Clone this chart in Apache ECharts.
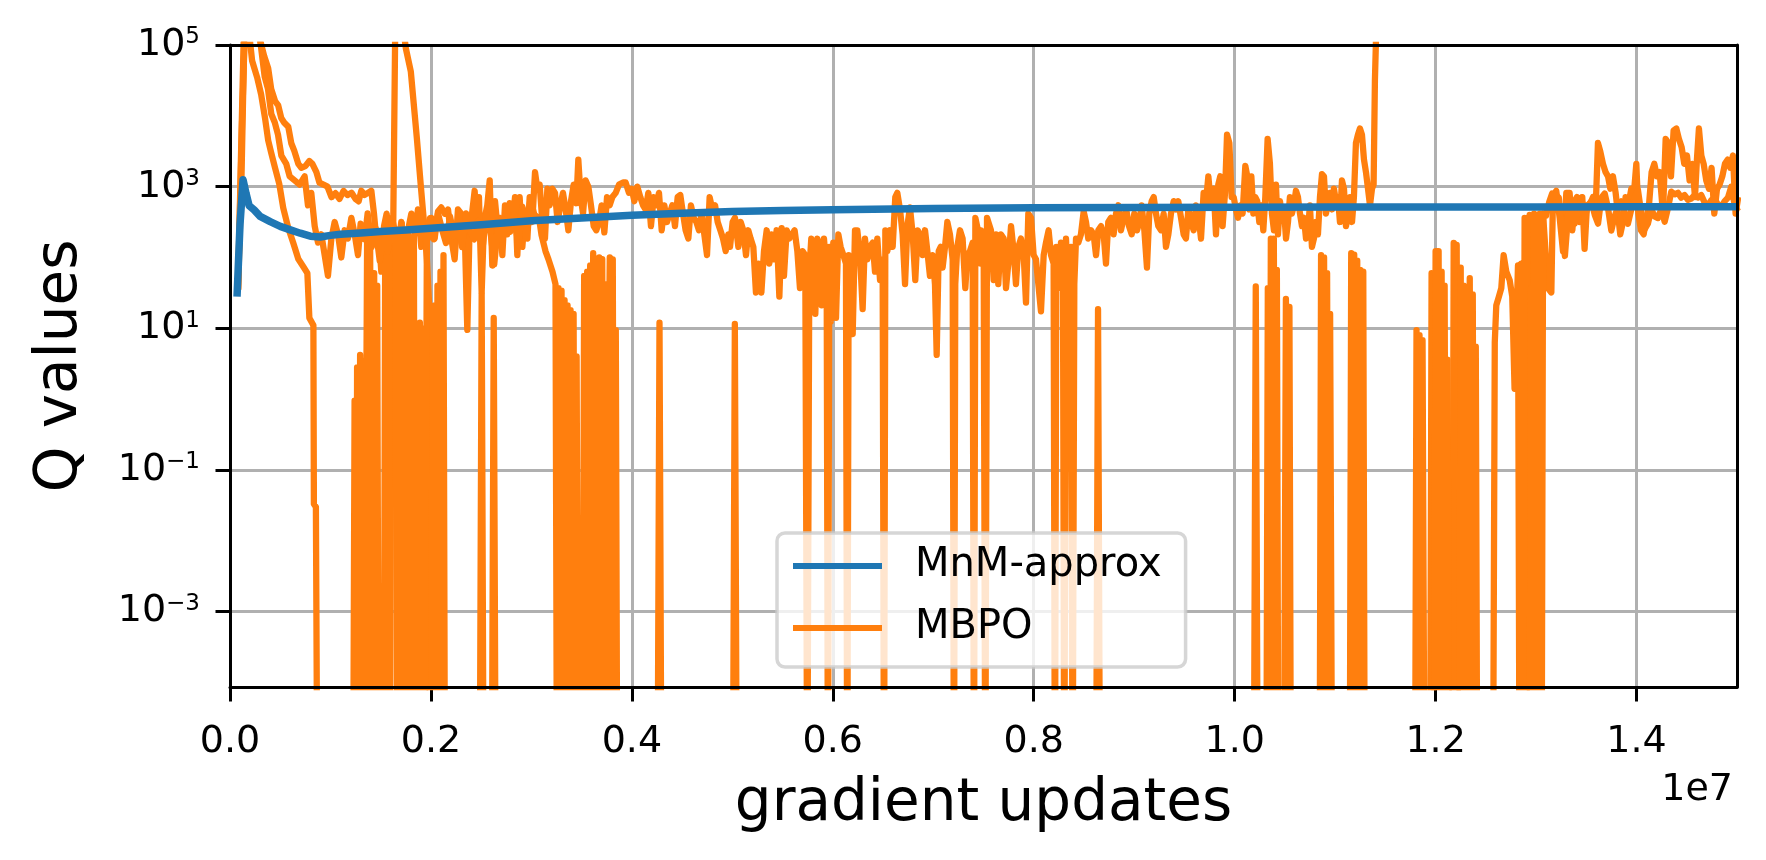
<!DOCTYPE html>
<html><head><meta charset="utf-8">
<script src="https://cdn.jsdelivr.net/npm/echarts@6/dist/echarts.min.js"></script>
<style>html,body{margin:0;padding:0;background:#fff}#chart{width:1766px;height:860px}</style>
</head><body><div id="chart"></div>
<script>
const FONT = 'DejaVu Sans';
const seriesNames = ['MnM-approx', 'MBPO'];
const xTickValues = [0, 0.2, 0.4, 0.6, 0.8, 1.0, 1.2, 1.4];   // x in units of 1e7 gradient updates
const yTickValues = [1e-3, 1e-1, 1e1, 1e3, 1e5];
// values of 1e-6 are non-positive / below-range Q values (clipped at the bottom of the log axis)

const mnmApprox = [[0.007,28],[0.010,300],[0.013,1250],[0.016,800],[0.019,540],[0.024,470],[0.030,380],[0.040,320],[0.050,275],[0.060,245],[0.070,220],[0.080,200],[0.090,195],[0.100,205],[0.110,212],[0.130,222],[0.150,232],[0.175,245],[0.200,258],[0.250,290],[0.300,330],[0.350,360],[0.400,395],[0.450,420],[0.500,445],[0.550,460],[0.600,472],[0.700,490],[0.800,502],[0.900,508],[1.000,512],[1.100,515],[1.200,517],[1.300,518],[1.400,519],[1.500,520]];

const mbpoRunA = [[0.008,35],[0.011,3000],[0.014,2e5],[0.022,2e5],[0.028,1.5e5],[0.034,70000],[0.038,47000],[0.041,24000],[0.045,16000],[0.048,14000],[0.051,9300],[0.054,8000],[0.058,7000],[0.061,4100],[0.064,3200],[0.068,2100],[0.071,1850],[0.075,1950],[0.079,2300],[0.082,2100],[0.086,1600],[0.089,1140],[0.093,1070],[0.097,1000],[0.101,710],[0.105,810],[0.109,670],[0.113,870],[0.117,760],[0.121,820],[0.125,670],[0.128,620],[0.1307,874],[0.134,763],[0.1373,817],[0.1407,874],[0.1433,416],[0.1456,185],[0.148,212],[0.1506,63],[0.1533,277],[0.1559,416],[0.1586,212],[0.1612,363],[0.1639,242],[0.1672,141],[0.1705,317],[0.1738,123],[0.1772,242],[0.1805,416],[0.1838,212],[0.1871,476],[0.1904,141],[0.1937,277],[0.1971,185],[0.2004,363],[0.2037,185],[0.207,445],[0.2103,509],[0.2137,416],[0.217,476],[0.2203,185],[0.2236,94],[0.2269,476],[0.2302,416],[0.2336,242],[0.2362,9.5],[0.2385,277],[0.2409,416],[0.2435,874],[0.2462,212],
[0.2478,713],[0.2505,32],[0.2528,317],[0.2561,545],[0.2585,1225],[0.2611,77],[0.2638,623],[0.2661,277],[0.2684,363],[0.2711,108],[0.2737,545],[0.276,212],[0.2784,583],[0.281,277],[0.2837,713],[0.286,108],[0.2883,713],[0.291,141],[0.2936,416],[0.296,185],[0.2983,713],[0.3009,317],[0.3036,1600],[0.3059,935],[0.3082,1070],[0.3109,317],[0.3135,185],[0.3159,935],[0.3182,545],[0.3208,935],[0.3235,817],[0.3261,317],[0.3288,545],[0.3314,817],[0.3341,476],[0.3368,242],[0.3394,623],[0.3421,1070],[0.3447,583],[0.3467,2410],[0.349,713],[0.3514,416],[0.354,1225],[0.3567,1000],[0.3593,545],[0.362,277],[0.3646,242],[0.3673,317],[0.3699,545],[0.3726,226],[0.3753,713],[0.3779,545],[0.3806,713],[0.3839,817],[0.3872,1070],[0.3912,1145],[0.3938,1145],[0.3971,817],[0.3998,935],[0.4025,623],[0.4054,1000],[0.4084,713],[0.4111,545],[0.4137,476],[0.4164,817],[0.419,277],[0.4217,713],[0.4244,545],[0.427,817],[0.4297,242],[0.4323,545],[0.435,317],[0.4376,416],[0.4403,545],[0.4429,277],[0.4456,713],[0.4482,763],[0.4509,416],[0.4535,242],[0.4562,185],[0.4588,545],[0.4615,363],[0.4642,317],[0.4668,242],[0.4695,416],[0.4721,212],[0.4748,108],[0.4774,713],[0.4801,476],[0.4828,545],[0.4854,317],[0.4881,242],[0.4907,185],[0.4934,123],[0.496,212],
[0.4977,141],[0.5003,317],[0.5026,363],[0.506,141],[0.5083,317],[0.5109,242],[0.5136,108],[0.5159,242],[0.5182,185],[0.5209,141],[0.5235,32],[0.5262,82],[0.5289,32],[0.5315,123],[0.5342,242],[0.5368,82],[0.5391,212],[0.5415,94],[0.5441,242],[0.5468,28],[0.5491,259],[0.5514,55],[0.5541,242],[0.5567,185],[0.5594,212],[0.562,242],[0.5647,123],[0.5673,37],[0.57,123],[0.5726,108],[0.5746,1e-6],[0.5766,63],[0.5786,185],[0.5806,108],[0.5826,16],[0.5846,185],[0.5866,141],[0.5889,21],[0.5912,185],[0.5939,63],[0.5952,1e-6],[0.5965,141],[0.5979,12.4],[0.6005,162],[0.6032,14],[0.6055,212],[0.6078,141],[0.6105,108],[0.6131,82],[0.6144,1e-6],[0.6158,108],[0.6178,28],[0.6198,8.3],[0.6221,242],[0.6244,242],[0.6271,108],[0.6297,18.6],[0.632,185],[0.6344,94],[0.637,141],[0.6397,162],[0.642,63],[0.6443,185],[0.647,48],[0.6496,94],[0.651,1e-6],[0.6523,242],[0.6543,123],[0.6569,242],[0.6596,141],[0.6622,713],[0.6642,817],[0.6669,476],[0.6695,212],[0.6719,42],[0.6742,277],[0.6768,509],[0.6795,212],[0.6821,48],[0.6845,242],[0.6868,212],[0.6894,108],[0.6918,242],[0.6941,123],[0.6967,55],[0.6994,108],[0.7017,42],[0.7034,4.2],[0.7054,123],[0.7074,141],[0.7093,72],[0.7117,141],[0.714,317],[0.7166,212],[0.7193,94],[0.7206,1e-6],[0.7219,42],[0.7239,141],[0.7266,242],[0.7292,185],[0.7319,37],[0.7339,108],[0.7365,123],[0.7392,162],[0.7405,1e-6],[0.7419,363],[0.7445,242],[0.7472,82],
[0.7475,242],[0.7502,108],[0.7518,1e-6],[0.7535,363],[0.7548,317],[0.7574,242],[0.7601,48],[0.7624,212],[0.7647,42],[0.7674,212],[0.7701,185],[0.7724,37],[0.7747,82],[0.7774,277],[0.78,123],[0.7823,42],[0.7847,141],[0.7873,185],[0.79,108],[0.7923,23],[0.7946,416],[0.7973,363],[0.7999,108],[0.8022,94],[0.8046,42],[0.8072,17.4],[0.8099,108],[0.8122,162],[0.8148,242],[0.8172,108],[0.8198,82],[0.8211,1e-6],[0.8225,141],[0.8245,37],[0.8271,162],[0.8291,63],[0.8304,1e-6],[0.8321,185],[0.8344,37],[0.8371,141],[0.8387,1e-6],[0.8404,42],[0.8421,185],[0.8444,162],[0.847,212],[0.8497,445],[0.852,317],[0.8543,185],[0.857,242],[0.8596,212],[0.862,108],[0.8643,242],[0.867,277],[0.8696,212],[0.8719,82],[0.8742,317],[0.8769,363],[0.8795,212],[0.8819,416],[0.8842,545],[0.8868,242],[0.8895,363],[0.8921,476],[0.8948,277],[0.8975,212],[0.9001,416],[0.9028,242],[0.9051,317],[0.9074,545],[0.9101,242],[0.9127,72],[0.915,416],[0.9174,623],[0.9194,713],[0.9217,416],[0.924,277],[0.9267,242],[0.9293,416],[0.9316,141],[0.934,212],[0.9366,416],[0.9393,623],[0.9416,476],[0.9439,623],[0.9466,363],[0.9492,212],[0.9515,185],[0.9539,476],[0.9565,317],[0.9592,242],[0.9615,545],[0.9638,416],[0.9665,185],[0.9691,817],[0.9715,623],[0.9738,1400],[0.9764,545],[0.9791,935],[0.9814,212],[0.9837,1070],[0.9857,1400],[0.988,277],[0.9904,817],[0.9924,5410],[0.9947,4130],[0.997,713],
[0.999,713],[1.0013,476],[1.0033,363],[1.0056,545],[1.0079,416],[1.0106,1960],[1.0126,1400],[1.0146,476],[1.0166,1400],[1.0186,416],[1.0205,713],[1.0225,623],[1.0245,317],[1.0265,545],[1.0285,242],[1.0305,713],[1.0328,4720],[1.0351,2100],[1.0371,416],[1.0391,242],[1.0411,1070],[1.0431,212],[1.0451,623],[1.0471,363],[1.0491,476],[1.0511,185],[1.0531,317],[1.055,713],[1.057,416],[1.059,545],[1.061,874],[1.063,713],[1.065,416],[1.067,277],[1.069,363],[1.071,185],[1.073,242],[1.0749,545],[1.0769,141],[1.0789,185],[1.0809,317],[1.0829,212],[1.0849,713],[1.0869,1500],[1.0889,1400],[1.0909,416],[1.0929,623],[1.0949,817],[1.0969,476],[1.0988,935],[1.1008,623],[1.1028,713],[1.1048,317],[1.1068,1225],[1.1088,935],[1.1108,277],[1.1128,416],[1.1148,713],[1.1168,317],[1.1187,713],[1.1207,4130],[1.1227,5410],[1.1247,6620],[1.1267,5410],[1.1287,2410],[1.1307,1600],[1.1327,935],[1.1347,545],[1.1367,935],[1.1383,1070],[1.1396,31600],[1.1406,1.1e5],[1.141,1e6]];

const mbpoRunB = [[0.008,35],[0.012,8000],[0.015,2e5],[0.018,2e5],[0.022,60000],[0.027,35000],[0.031,20000],[0.035,9000],[0.038,4500],[0.041,3000],[0.045,1800],[0.049,1100],[0.053,500],[0.058,260],[0.063,160],[0.068,95],[0.073,74],[0.077,60],[0.079,14],[0.083,11],[0.0835,0.033],[0.0855,0.03],[0.087,1e-6],
[0.1225,1e-6],[0.124,0.95],[0.1255,1e-6],[0.1265,2.8],[0.128,1e-6],[0.1295,4.2],[0.131,1e-6],[0.132,3.5],[0.1335,1e-6],[0.1365,200],[0.138,1e-6],[0.1395,150],[0.141,1e-6],[0.1435,60],[0.145,1e-6],[0.1465,40],[0.148,1e-6],[0.153,1e-6],[0.1545,190],[0.156,1e-6],[0.1575,11],[0.159,1e-6],[0.1605,100],[0.1625,300],[0.1645,2e5],[0.172,2e5],[0.175,90000],[0.18,42000],[0.186,4800],[0.19,1000],[0.194,220],[0.196,93],[0.198,25],[0.199,1e-6],[0.2025,1e-6],[0.2035,21],[0.205,1e-6],[0.2065,40],[0.208,1e-6],[0.2095,63],[0.211,1e-6],[0.2125,108],[0.214,1e-6],[0.2485,1e-6],[0.2505,30],[0.2525,1e-6],[0.2605,1e-6],[0.2625,14],[0.2645,1e-6],[0.4255,1e-6],[0.4275,12],[0.4295,1e-6],[0.862,1e-6],[0.864,18.6],[0.866,1e-6],[1.019,1e-6],[1.021,39],[1.023,1e-6],[1.0315,1e-6],[1.033,37],[1.0345,1e-6],[1.036,185],[1.0375,1e-6],[1.039,185],[1.0405,1e-6],[1.042,67],[1.0435,1e-6],[1.0845,1e-6],[1.086,108],[1.0875,1e-6],[1.089,100],[1.0905,1e-6],[1.092,60],[1.0935,1e-6],[1.095,16],[1.097,1e-6],[1.1795,1e-6],[1.181,9.4],[1.1825,1e-6],[1.184,8],[1.1855,1e-6],[1.187,6.8],[1.189,1e-6],[1.1945,1e-6],[1.196,60],[1.1975,1e-6],[1.2165,1e-6],[1.218,160],[1.2195,1e-6],[1.221,150],[1.2225,1e-6],
[1.2571,1e-6],[1.2589,6.3],[1.2604,21],[1.263,28],[1.2654,37],[1.2677,108],[1.2704,63],[1.2737,48],[1.2763,28],[1.2786,1.4],[1.2803,9.5],[1.282,77],[1.2836,1e-6],[1.2853,82],[1.287,1e-6],[1.2886,363],[1.2903,1e-6],[1.2919,120],[1.2936,400],[1.2969,363],[1.3002,185],[1.3036,416],[1.3052,37],[1.3069,420],[1.3085,416],[1.3118,37],[1.3152,32],[1.3168,713],[1.3201,874],[1.3235,363],[1.3268,123],[1.3301,817],[1.3334,817],[1.3361,242],[1.3384,623],[1.3407,713],[1.3434,317],[1.346,713],[1.3483,132],[1.3507,545],[1.3533,545],[1.3566,713],[1.3593,476],[1.3616,4130],[1.3639,3150],[1.3666,2100],[1.3692,1600],[1.3716,1400],[1.3739,935],[1.3765,1400],[1.3792,817],[1.3815,416],[1.3838,212],[1.3865,317],[1.3891,713],[1.3918,545],[1.3948,935],[1.3971,713],[1.3998,2100],[1.4018,416],[1.4044,242],[1.4071,212],[1.4097,363],[1.4124,545],[1.415,1600],[1.4177,2100],[1.4203,1400],[1.423,1600],[1.4263,416],[1.429,4720],[1.4316,4130],[1.4343,1400],[1.4369,6190],[1.4396,6620],[1.4422,4720],[1.4449,3610],[1.4475,2100],[1.4502,2750],[1.4528,1225],[1.4555,2100],[1.4582,713],[1.4601,2410],[1.4621,6620],[1.4645,2750],[1.4668,2100],[1.4694,1225],[1.4721,935],[1.4747,1840],[1.4774,416],[1.4801,935],[1.4827,1070],[1.4854,1400],[1.488,2100],[1.4907,2410],[1.4933,1840],[1.496,2750],[1.4986,416],[1.5013,713]];

const mbpoRunC = [[0.008,35],[0.0115,1500],[0.0145,2e5],[0.028,2e5],[0.0345,35700],[0.0378,23900],[0.0411,10600],[0.0445,8100],[0.0478,5400],[0.0511,2750],[0.056,2100],[0.0594,1400],[0.0643,1225],[0.0693,1070],[0.0743,1400],[0.0776,545],[0.0809,817],[0.0843,277],[0.0876,162],[0.0909,212],[0.0942,108],[0.0975,55],[0.1009,185],[0.1042,317],[0.1075,212],[0.1108,100],[0.1141,242],[0.1174,185],[0.1208,363],[0.1241,212],[0.1274,108],
[0.13,300],[0.134,180],[0.137,420],[0.141,140],[0.145,260],[0.149,90],[0.153,230],[0.157,120],[0.161,320],[0.1645,170],[0.1665,1e-6],[0.168,250],[0.1695,1e-6],[0.171,300],[0.1725,1e-6],[0.174,4],[0.1755,1e-6],[0.177,250],[0.1785,1e-6],[0.18,60],[0.1815,1e-6],[0.183,200],[0.1845,1e-6],[0.187,1e-6],[0.189,12],[0.1905,1e-6],[0.192,10],[0.1935,1e-6],[0.196,220],[0.199,360],[0.203,180],[0.207,420],[0.211,250],[0.215,160],[0.219,380],[0.223,200],[0.227,300],[0.231,140],[0.235,420],[0.239,230],[0.243,180],[0.247,330],[0.251,120],[0.255,400],[0.259,250],[0.263,80],[0.267,300],[0.271,180],[0.275,500],[0.279,230],[0.283,400],[0.287,150],[0.291,520],[0.295,300],[0.299,650],[0.303,400],[0.3076,360],[0.31,210],[0.314,123],[0.317,94],[0.321,63],[0.324,42],[0.3255,1e-6],[0.327,37],[0.3285,1e-6],[0.33,34],[0.3315,1e-6],[0.333,25],[0.3345,1e-6],[0.336,21],[0.3375,1e-6],[0.339,18],[0.3405,1e-6],[0.342,16],[0.3435,1e-6],[0.345,4],[0.3465,1e-6],[0.3509,1e-6],[0.3525,55],[0.354,1e-6],[0.3555,63],[0.357,1e-6],[0.3585,77],[0.36,1e-6],[0.3615,115],[0.363,1e-6],[0.3645,90],[0.366,1e-6],[0.3675,100],[0.369,1e-6],[0.3705,95],[0.372,1e-6],[0.3735,42],[0.375,1e-6],[0.3765,0.6],[0.378,100],[0.3795,1e-6],[0.381,94],[0.3825,1e-6],[0.384,9.4],[0.3855,1e-6],
[0.5005,1e-6],[0.5025,11.5],[0.5045,1e-6],[1.049,1e-6],[1.051,26],[1.053,1e-6],[1.0545,20],[1.056,1e-6],[1.1145,1e-6],[1.116,115],[1.1175,1e-6],[1.119,110],[1.1205,1e-6],[1.122,90],[1.1235,1e-6],[1.125,67],[1.1265,1e-6],[1.128,63],[1.1295,1e-6],[1.1985,1e-6],[1.2,123],[1.2015,1e-6],[1.203,123],[1.2045,1e-6],[1.206,63],[1.2075,1e-6],[1.209,40],[1.2105,1e-6],[1.2118,3.6],[1.2135,1e-6],[1.2235,1e-6],[1.225,72],[1.2265,1e-6],[1.228,40],[1.2295,1e-6],[1.231,18.6],[1.2325,1e-6],[1.234,51],[1.2355,1e-6],[1.237,30],[1.2385,1e-6],[1.24,5.5],[1.2415,1e-6],
[1.2935,1e-6],[1.295,37],[1.2965,1e-6],[1.298,416],[1.2995,1e-6],[1.301,363],[1.3025,1e-6],[1.304,300],[1.3055,1e-6],[1.307,400],[1.31,390],[1.313,600],[1.316,800],[1.319,760],[1.3226,700],[1.326,250],[1.3287,105],[1.332,420],[1.3352,545],[1.3385,300],[1.3418,450],[1.3451,700],[1.3484,360],[1.3517,550],[1.355,620],[1.3584,400],[1.3617,300],[1.365,700],[1.3683,800],[1.3716,500],[1.3749,240],[1.3782,380],[1.3815,520],[1.3848,620],[1.3881,420],[1.3914,300],[1.3948,480],[1.3981,700],[1.4014,900],[1.4047,420],[1.408,250],[1.4113,300],[1.4147,480],[1.418,380],[1.4213,360],[1.4246,480],[1.428,320],[1.4313,500],[1.4346,850],[1.438,780],[1.4412,820],[1.4445,700],[1.4478,760],[1.4512,650],[1.4545,680],[1.4578,760],[1.461,700],[1.4644,760],[1.4677,600],[1.471,540],[1.4743,640],[1.4776,680],[1.481,560],[1.4843,520],[1.4876,620],[1.491,700],[1.4943,1000],[1.4976,560],[1.501,450]];

const chart = echarts.init(document.getElementById('chart'), null, {renderer: 'canvas'});
const BLACK = '#000000';
const orangeStyle = {color: '#ff7f0e', width: 6.3, join: 'round'};
function orangeSeries(data) {
  return {name: 'MBPO', type: 'line', data: data, symbol: 'none', showSymbol: false,
    lineStyle: orangeStyle, itemStyle: {color: '#ff7f0e'}, z: 2, silent: true};
}
function spineAxis(pos) {
  return {type: 'value', position: pos, min: 0, max: 1, z: 10, silent: true,
    axisLine: {show: true, onZero: false, lineStyle: {color: BLACK, width: 3}},
    axisTick: {show: false}, axisLabel: {show: false}, splitLine: {show: false}};
}
const option = {
  animation: false,
  backgroundColor: '#ffffff',
  textStyle: {fontFamily: FONT},
  grid: {left: 230, top: 45, width: 1507, height: 642, containLabel: false},
  title: {text: '1e7', right: 33, top: 771, padding: 0,
    textStyle: {fontFamily: FONT, fontSize: 38, fontWeight: 'normal', color: BLACK}},
  legend: {
    data: seriesNames, orient: 'vertical', left: 777, top: 533,
    icon: 'rect', itemWidth: 89, itemHeight: 6, itemGap: 22,
    padding: [13, 24, 19, 16],
    backgroundColor: 'rgba(255,255,255,0.8)', borderColor: 'rgba(204,204,204,0.8)',
    borderWidth: 3.5, borderRadius: 8, selectedMode: false,
    itemStyle: {borderWidth: 0},
    textStyle: {fontFamily: FONT, fontSize: 40, color: BLACK, padding: [0, 0, 0, 28]}
  },
  xAxis: [
    {type: 'value', position: 'bottom', min: 0, max: 1.5, interval: 0.2, z: 0,
     name: 'gradient updates', nameLocation: 'middle', nameGap: 89,
     nameTextStyle: {fontFamily: FONT, fontSize: 58, color: BLACK},
     axisLine: {show: false, onZero: false},
     axisTick: {show: true, customValues: xTickValues, length: 14.5, lineStyle: {color: BLACK, width: 3}},
     axisLabel: {customValues: xTickValues, margin: 36, fontFamily: FONT, fontSize: 38, color: BLACK,
       formatter: v => v.toFixed(1)},
     splitLine: {show: true, lineStyle: {color: '#b0b0b0', width: 3}}},
    spineAxis('bottom'),
    spineAxis('top')
  ],
  yAxis: [
    {type: 'log', logBase: 10, position: 'left', min: 8.61e-5, max: 1e5, z: 0,
     name: 'Q values', nameLocation: 'middle', nameGap: 140,
     nameTextStyle: {fontFamily: FONT, fontSize: 58, color: BLACK},
     axisLine: {show: false, onZero: false},
     axisTick: {show: true, customValues: yTickValues, length: 14.5, lineStyle: {color: BLACK, width: 3}},
     axisLabel: {customValues: yTickValues, margin: 30,
       formatter: function (v) {
         const e = Math.round(Math.log10(v));
         const s = e < 0 ? '\u2212' + Math.abs(e) : String(e);
         return '{b|10}{s|' + s + '}';
       },
       rich: {
         b: {fontFamily: FONT, fontSize: 38, lineHeight: 38, color: BLACK, verticalAlign: 'middle'},
         s: {fontFamily: FONT, fontSize: 23, lineHeight: 20, color: BLACK, verticalAlign: 'top'}
       }},
     minorTick: {show: false}, minorSplitLine: {show: false},
     splitLine: {show: true, lineStyle: {color: '#b0b0b0', width: 3}}},
    spineAxis('left'),
    spineAxis('right')
  ],
  series: [
    orangeSeries(mbpoRunA),
    orangeSeries(mbpoRunB),
    orangeSeries(mbpoRunC),
    {name: 'MnM-approx', type: 'line', data: mnmApprox, symbol: 'none', showSymbol: false,
     lineStyle: {color: '#1f77b4', width: 7.5, join: 'round'}, itemStyle: {color: '#1f77b4'}, z: 3, silent: true}
  ]
};
chart.setOption(option);
</script>
</body></html>
